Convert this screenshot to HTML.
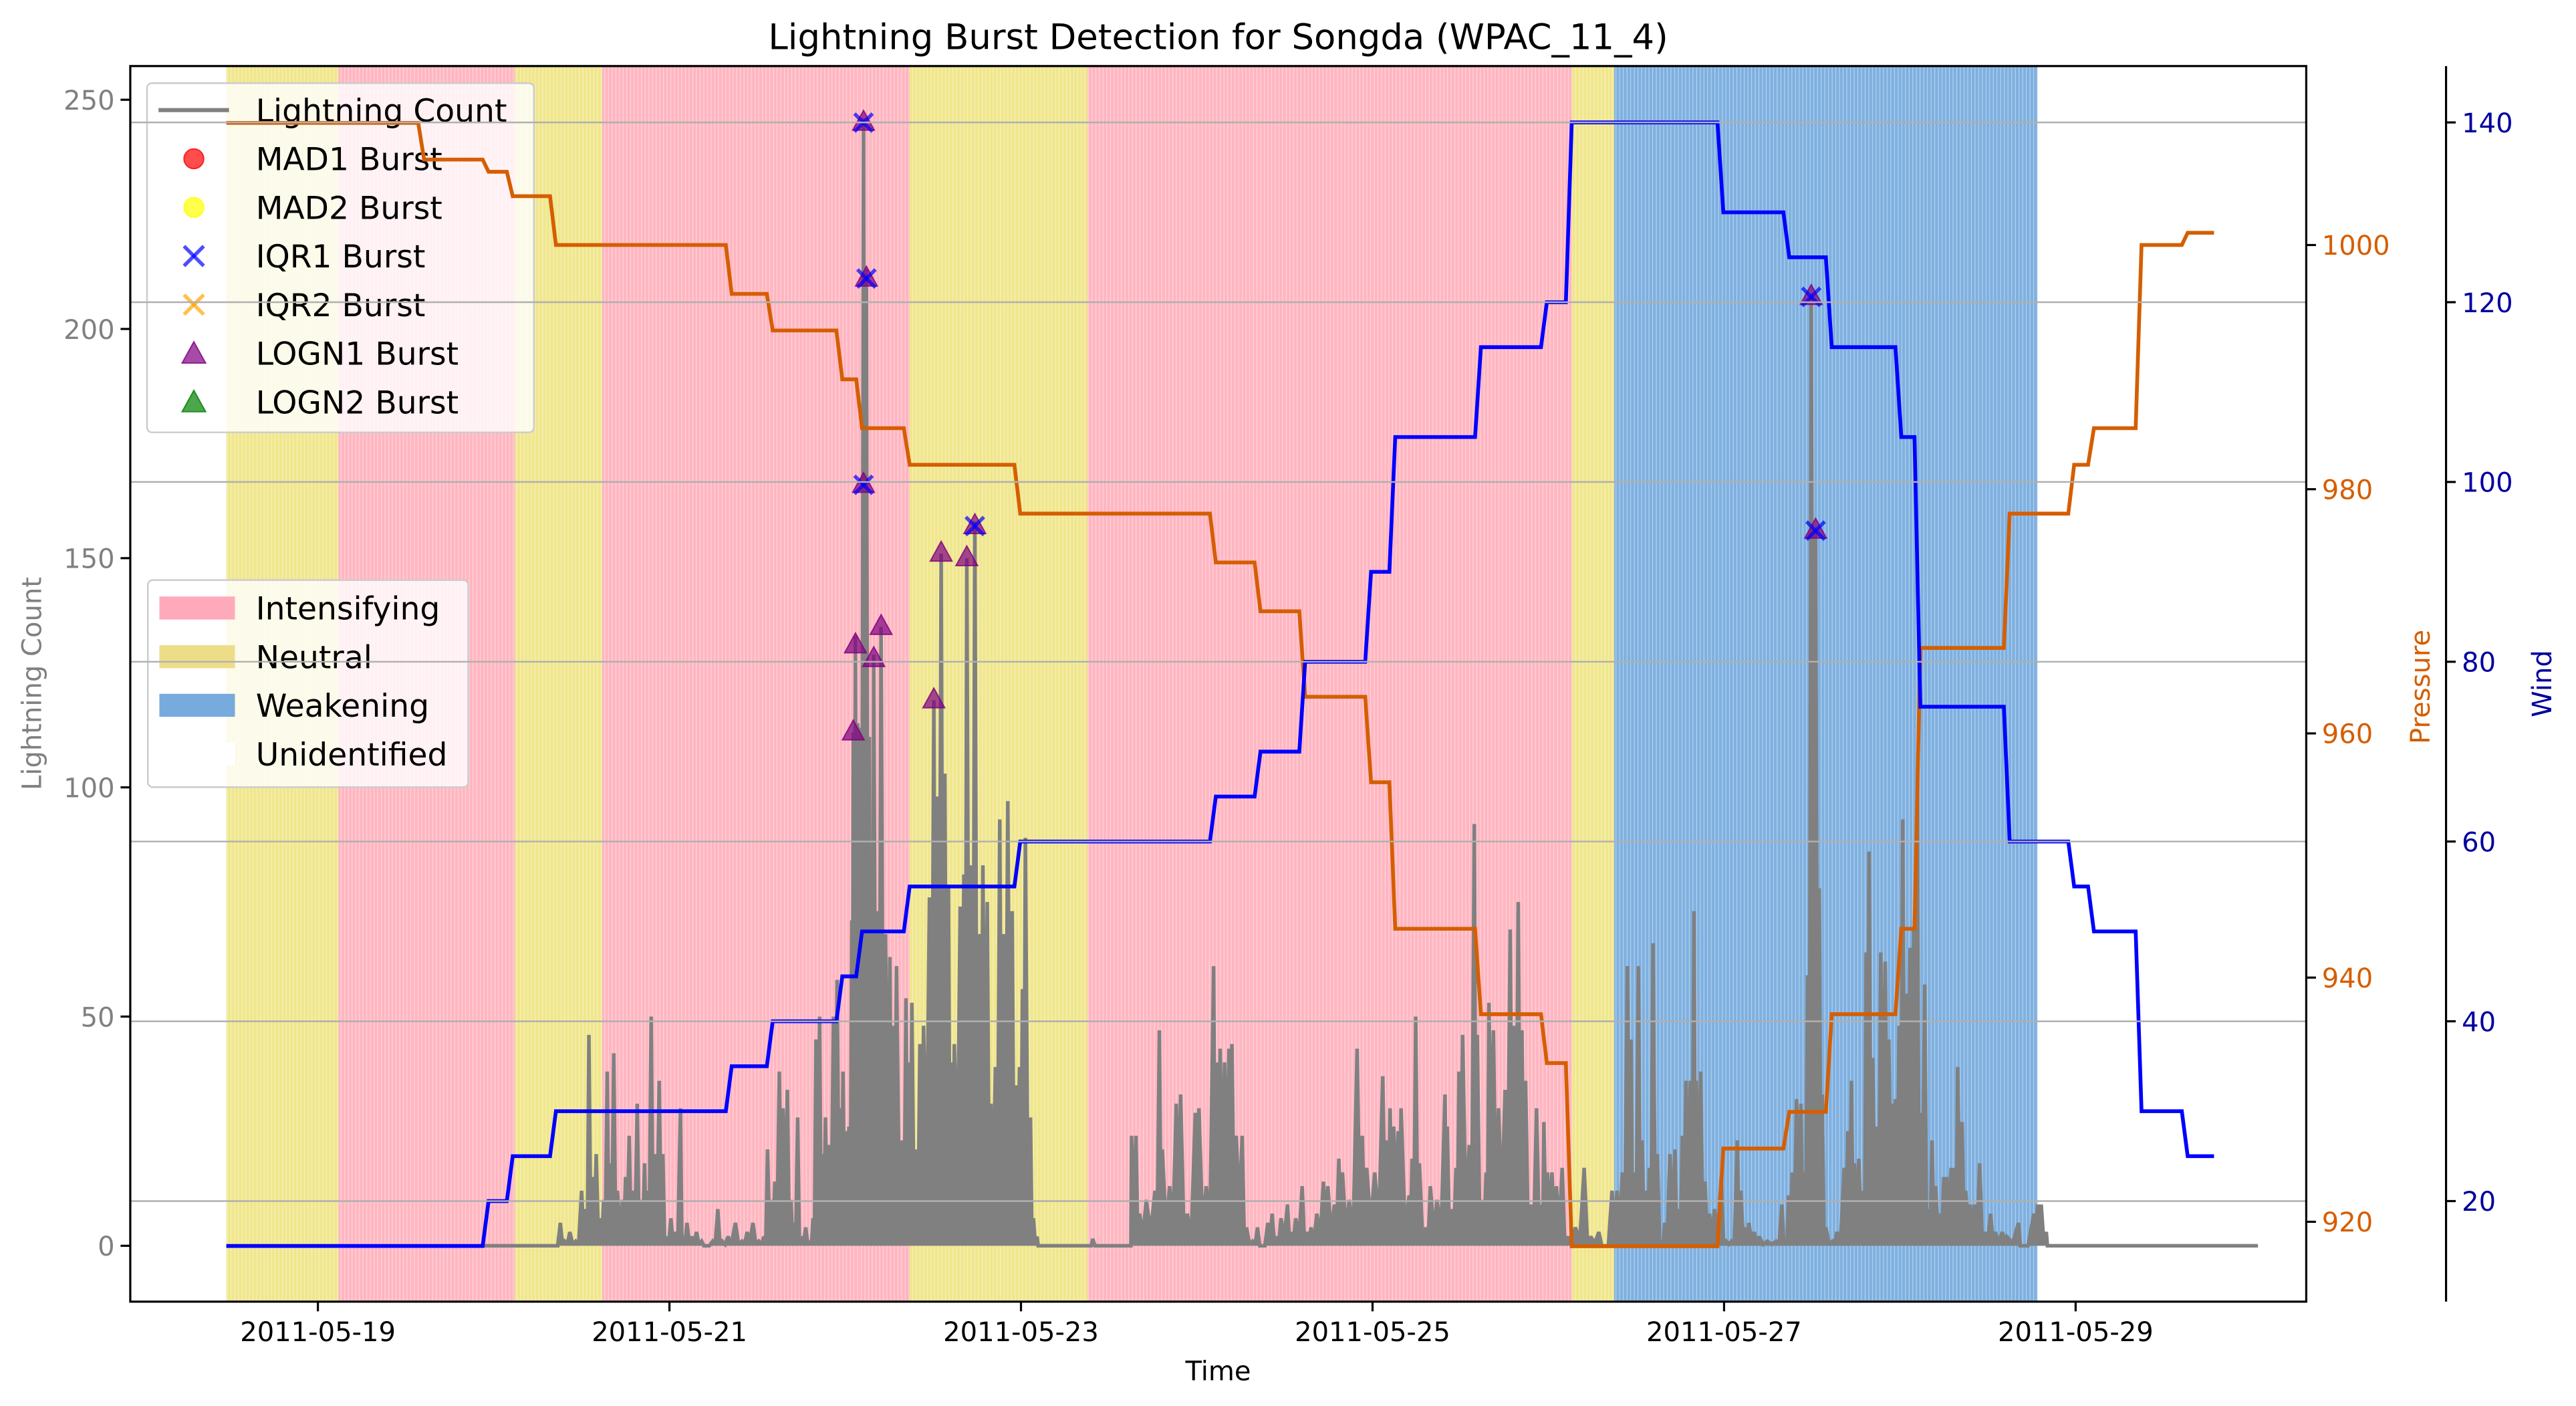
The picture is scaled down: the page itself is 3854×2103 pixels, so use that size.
<!DOCTYPE html>
<html><head><meta charset="utf-8"><title>Lightning Burst Detection for Songda</title>
<style>html,body{margin:0;padding:0;background:#fff}svg{display:block}text{font-family:"DejaVu Sans","Liberation Sans",sans-serif}</style>
</head><body>
<svg id="chart" xmlns="http://www.w3.org/2000/svg" width="3854" height="2103" viewBox="0 0 1568 855.6">
<defs>
<pattern id="stripe" patternUnits="userSpaceOnUse" width="2.23" height="10"><rect x="0" y="0" width="0.45" height="10" fill="#fff" fill-opacity="0.45"/></pattern>
<clipPath id="plotclip"><rect x="79.3" y="40.2" width="1324.5" height="751.9"/></clipPath>
</defs>
<g id="spans" clip-path="url(#plotclip)"></g>
<g id="lightning" clip-path="url(#plotclip)"></g>
<g id="markers"></g>
<g id="legends"></g>
<g id="pressure" clip-path="url(#plotclip)"></g>
<g id="wind" clip-path="url(#plotclip)"></g>
<g id="grid"></g>
<g id="axes"></g>
</svg>
<script>
// ---- data ----
const dateTickLabels = ["2011-05-19","2011-05-21","2011-05-23","2011-05-25","2011-05-27","2011-05-29"];
const dateTickHours = [0,48,96,144,192,240];
const countTicks = [0,50,100,150,200,250];
const pressureTicks = [920,940,960,980,1000];
const windTicks = [20,40,60,80,100,120,140];

const spanStartHours = [-9.9,5.4,29.5,41.4,83.4,107.7,173.8,179.6];
const spanEndHours   = [5.4,29.5,41.4,83.4,107.7,173.8,179.6,237.4];
const spanLabels = ["Neutral","Intensifying","Neutral","Intensifying","Neutral","Intensifying","Neutral","Weakening"];

const lcHours = [-9.9,35,35.7,36.3,37,37.8,38.6,39.2,39.6,40.1,40.6,41.2,41.6,42.1,42.5,43.0,43.5,44.2,44.6,45.1,45.6,46.2,46.7,47.2,47.6,48.1,48.6,49.2,49.7,50.2,50.8,51.4,52.1,52.5,53,53.6,54.3,55,55.6,56.5,57.2,57.8,58.6,59.6,60.5,61.2,62,62.8,63.5,64.0,64.5,65.0,65.6,66.1,66.7,67.2,67.6,68.1,68.6,69.2,69.8,70.2,70.6,71.1,71.5,71.9,72.4,73.0,73.5,74.0,74.3,74.7,75.1,75.5,75.7,76.0,76.3,76.6,77.1,77.5,77.9,78.2,78.5,79.0,79.5,80.1,80.7,81.1,81.6,82.4,82.9,83.3,83.7,84.3,84.8,85.3,86.1,86.7,87.1,87.7,88.2,88.7,89.1,89.5,90.3,90.8,91.2,91.8,92.3,92.9,93.4,94.0,94.5,95.1,95.7,96.2,96.8,97.4,97.9,98.4,98.8,99.2,99.9,100.3,100.8,101.1,108,108.4,109,113.5,113.7,114.3,114.8,115.7,116.9,117.5,117.9,118.9,119.8,120.4,121.3,122.4,122.9,123.9,124.9,125.3,125.8,126.4,127.0,127.4,128.0,128.8,129.4,130.2,130.9,131.5,132.3,132.9,133.5,134.1,135.0,135.5,136.1,137.0,137.6,138.2,139.0,139.9,140.5,141.4,142.0,142.5,143.4,144.5,145.2,145.8,146.9,148.0,148.6,149.0,149.5,150.1,150.5,151.6,152.0,152.5,153.0,153.9,154.5,155.4,156.5,156.8,157.4,158.0,158.4,158.9,159.8,160.5,160.9,161.6,162.1,162.5,163.1,163.8,164.7,165.4,165.9,166.5,167.0,167.5,168.2,169.0,169.7,170.0,170.5,171.1,171.7,172.5,173.2,174.3,175.5,176.4,177.5,178.3,179.3,180.0,180.7,181.4,181.9,182.3,182.9,183.4,184.0,184.4,184.9,185.5,186.1,186.5,187.2,187.9,188.4,188.9,189.4,190.0,190.5,190.8,191.4,192.0,192.6,193.3,194.2,194.9,195.6,196.4,196.9,197.5,198.0,198.7,199.4,200.5,201.7,202.5,203.0,203.4,203.9,204.5,205.1,205.5,206.0,206.5,207.1,207.6,208.0,208.5,209.4,210.0,211.0,211.5,212.0,212.4,213.0,213.6,214.0,214.4,214.9,215.5,216.0,216.6,217.1,217.6,218.0,218.5,219.0,219.5,220.0,220.5,221.0,221.4,222.0,222.5,223.0,223.5,224.1,224.6,225.0,225.6,226.1,226.5,227.1,227.6,228.2,228.8,229.5,230.2,231.0,231.6,232.6,233.2,234.8,235.3,236.9,237.4,237.9,238.6,238.9,267.5];
const lcCounts = [0,0,5,1,3,1,12,8,46,15,20,6,10,38,18,42,12,10,15,24,12,31,10,18,12,50,20,36,20,2,6,3,30,2,5,2,3,1,0,1,8,1,2,5,1,3,5,1,2,21,10,14,38,30,34,10,5,28,2,4,1,6,45,50,20,28,22,50,58,30,38,25,26,71,112,133,114,113,246,213,111,70,129,73,135,68,63,48,61,23,54,40,53,21,44,48,76,119,98,151,103,78,40,44,74,81,150,83,158,68,83,75,31,39,93,68,97,73,35,39,56,89,28,6,2,0,0,1.5,0,0,24,24,7,10,12,47,21,13,31,33,7,29,30,13,61,40,43,40,43,44,24,24,4,1,4,0,5,7,2,6,9,3,6,13,3,4,7,14,13,9,19,16,10,43,24,17,16,37,23,30,26,25,30,11,19,50,18,4,13,10,33,26,8,17,38,46,22,92,46,10,16,53,47,30,34,69,48,75,47,36,9,30,9,27,16,16,13,17,2,4,17,2,3,0,12,12,16,61,45,16,61,23,12,17,66,20,1,5,20,21,8,24,36,36,73,36,38,14,7,8,15,1,1,23,12,4,5,3,2,1,1,9,1,11,16,32,31,16,59,207,156,78,33,4,1,3,17,25,36,18,19,12,64,86,41,26,64,62,45,31,32,48,93,55,65,69,102,29,57,8,23,13,7,15,15,17,17,39,27,12,9,9,18,3,7,3,3,2,5,0,7,9,9,3,0,0];

const logn1Hours  = [75.7,76.0,77.1,77.1,77.5,78.5,79.5,86.7,87.7,91.2,92.3,206.5,207.1];
const logn1Counts = [112,131,245,166,211,128,135,119,151,150,157,207,156];
const iqr1Hours   = [77.1,77.1,77.5,92.3,206.5,207.1];
const iqr1Counts  = [245,166,211,157,207,156];

const stepHours    = [-9.9,17.1,25.9,29.2,35.1,59.1,64.7,74.2,76.9,83.4,98.5,125.2,131.3,137.4,146.4,149.7,161.4,170.4,173.8,194.5,203.5,209.3,218.8,221.4,233.6,242.4,245.1,251.6,257.9];
const pressureVals = [1010,1007,1006,1004,1000,996,993,989,985,982,978,974,970,963,956,944,937,933,918,926,929,937,944,967,978,982,985,1000,1001];
const windVals     = [15,15,20,25,30,35,40,45,50,55,60,65,70,80,90,105,115,120,140,130,125,115,105,75,60,55,50,30,25];
const seriesEndHour = 261.5;

// ---- scales ----
const L=79.3,R=1403.8,T=40.2,B=792.1;
const X = h => 193.5 + (h - 2.6) * 4.458;
const YC = c => 758.1 - c * 2.7896;
const YP = p => 743.5 - (p - 920) * 7.43;
const YW = w => 730.9 - (w - 20) * 5.47;
const NS="http://www.w3.org/2000/svg";
function mk(tag, attrs, parent){const e=document.createElementNS(NS,tag);for(const k in attrs)e.setAttribute(k,attrs[k]);parent.appendChild(e);return e;}
const $=id=>document.getElementById(id);

// spans
const spanColor={"Intensifying":"#ffb6c1","Neutral":"#f0e68c","Weakening":"#7eb0e0"};
spanStartHours.forEach((s,i)=>{
  const r=mk('rect',{x:X(s),y:T,width:X(spanEndHours[i])-X(s),height:B-T,fill:spanColor[spanLabels[i]]},$('spans'));
  
  
  const s2=mk('rect',{x:X(s),y:T,width:X(spanEndHours[i])-X(s),height:B-T,fill:'url(#stripe)'},$('spans'));
  
  
});

// lightning (spiky rendering: dip between consecutive readings)
const pts=[];
lcHours.forEach((h,i)=>{
  pts.push(X(h).toFixed(2)+','+YC(lcCounts[i]).toFixed(2));
  if(i<lcHours.length-1){
    const h2=lcHours[i+1];
    if(h2-h<3){const m=Math.min(lcCounts[i],lcCounts[i+1])*0.3;
      pts.push(X((h+h2)/2).toFixed(2)+','+YC(m).toFixed(2));}
  }
});
const area=mk('polygon',{points:X(lcHours[0])+','+YC(0)+' '+pts.join(' ')+' '+X(lcHours[lcHours.length-1])+','+YC(0),fill:'#808080',stroke:'none'},$('lightning'));


const lcl=mk('polyline',{points:pts.join(' '),fill:'none',stroke:'#808080','stroke-width':2.2,'stroke-linejoin':'miter','stroke-miterlimit':2},$('lightning'));



// markers
function tri(cx,cy,s,fill,parent){return mk('polygon',{points:`${cx},${cy-s*0.62} ${cx-s*0.55},${cy+s*0.38} ${cx+s*0.55},${cy+s*0.38}`,fill:fill,'fill-opacity':0.7,stroke:fill,'stroke-opacity':0.8,'stroke-width':0.8},parent);}
function cross(cx,cy,s,col,parent){const g=mk('g',{stroke:col,'stroke-opacity':0.7,'stroke-width':2.2},parent);mk('line',{x1:cx-s/2,y1:cy-s/2,x2:cx+s/2,y2:cy+s/2},g);mk('line',{x1:cx-s/2,y1:cy+s/2,x2:cx+s/2,y2:cy-s/2},g);return g;}
logn1Hours.forEach((h,i)=>{const m=tri(X(h),YC(logn1Counts[i]),12,'#800080',$('markers'));
  
  });
iqr1Hours.forEach((h,i)=>{const m=cross(X(h),YC(iqr1Counts[i]),11,'#0000ff',$('markers'));
  
  });

// legends
const lg=$('legends');
const b1=mk('rect',{x:89.5,y:50.6,width:235.5,height:212.5,rx:3,fill:'#fff','fill-opacity':0.8,stroke:'#cccccc','stroke-width':1},lg);


const rows=["Lightning Count","MAD1 Burst","MAD2 Burst","IQR1 Burst","IQR2 Burst","LOGN1 Burst","LOGN2 Burst"];
rows.forEach((t,i)=>{
  const cy=67+i*29.6;
  if(i===0){const l=mk('line',{x1:96.5,y1:cy,x2:139.4,y2:cy,stroke:'#808080','stroke-width':2.5},lg);
    
    }
  else if(i<3){const c=mk('circle',{cx:118,cy:cy,r:6,fill:i===1?'#ff0000':'#ffff00','fill-opacity':0.7,stroke:i===1?'#ff0000':'#ffff00','stroke-opacity':0.8,'stroke-width':0.8},lg);
    
    }
  else if(i<5){const c=cross(118,cy,12,i===3?'#0000ff':'#ffa500',lg);
    
    }
  else {const c=tri(118,cy+1,13,i===5?'#800080':'#008000',lg);
    
    }
  const tx=mk('text',{x:155.7,y:cy+7,'font-size':19.2,fill:'#000'},lg);tx.textContent=t;
  
  
});
const b2=mk('rect',{x:90,y:353,width:195,height:126,rx:3,fill:'#fff','fill-opacity':0.8,stroke:'#cccccc','stroke-width':1},lg);


const phaseRows=["Intensifying","Neutral","Weakening","Unidentified"];
const phaseCol=["#ffaabb","#eedd88","#77aadd","#ffffff"];
phaseRows.forEach((t,i)=>{
  const cy=370+i*29.6;
  const p=mk('rect',{x:97,y:cy-7,width:46,height:14,fill:phaseCol[i]},lg);
  
  
  const tx=mk('text',{x:155.7,y:cy+7,'font-size':19.2,fill:'#000'},lg);tx.textContent=t;
  
  
});

// pressure & wind step lines
function stepPts(vals,Yf){const p=[];stepHours.forEach((h,i)=>{if(i>0)p.push(X(h-0.8)+','+Yf(vals[i-1]));p.push(X(h)+','+Yf(vals[i]));});p.push(X(seriesEndHour)+','+Yf(vals[vals.length-1]));return p.join(' ');}
const pl=mk('polyline',{points:stepPts(pressureVals,YP),fill:'none',stroke:'#d55e00','stroke-width':2.3},$('pressure'));


const wl=mk('polyline',{points:stepPts(windVals,YW),fill:'none',stroke:'#0000ff','stroke-width':2.3},$('wind'));



// grid
windTicks.forEach(w=>{const g=mk('line',{x1:L,x2:R,y1:YW(w),y2:YW(w),stroke:'#b0b0b0','stroke-width':1},$('grid'));
  
  });

// axes
const ax=$('axes');
const fr=mk('rect',{x:L,y:T,width:R-L,height:B-T,fill:'none',stroke:'#000','stroke-width':1.3},ax);


const wa=mk('line',{x1:1488.9,x2:1488.9,y1:T,y2:B,stroke:'#000','stroke-width':1.3},ax);


const FS=16.3;
countTicks.forEach(c=>{const y=YC(c);mk('line',{x1:L-5.9,x2:L,y1:y,y2:y,stroke:'#000','stroke-width':1.3},ax);
  const t=mk('text',{x:L-9.5,y:y+6,'font-size':FS,fill:'#808080','text-anchor':'end'},ax);t.textContent=c;
  
  });
pressureTicks.forEach(p=>{const y=YP(p);mk('line',{x1:R,x2:R+5.9,y1:y,y2:y,stroke:'#000','stroke-width':1.3},ax);
  const t=mk('text',{x:R+9.5,y:y+6,'font-size':FS,fill:'#d55e00'},ax);t.textContent=p;
  
  });
windTicks.forEach(w=>{const y=YW(w);mk('line',{x1:1488.9,x2:1494.8,y1:y,y2:y,stroke:'#000','stroke-width':1.3},ax);
  const t=mk('text',{x:1498.5,y:y+6,'font-size':FS,fill:'#00009e'},ax);t.textContent=w;
  
  });
dateTickHours.forEach((h,i)=>{const x=X(h+2.6);mk('line',{x1:x,x2:x,y1:B,y2:B+5.9,stroke:'#000','stroke-width':1.3},ax);
  const t=mk('text',{x:x,y:B+24,'font-size':FS,fill:'#000','text-anchor':'middle'},ax);t.textContent=dateTickLabels[i];
  
  });
function label(txt,x,y,rot,col,size,name){const t=mk('text',{x:x,y:y,'font-size':size,fill:col,'text-anchor':'middle',transform:rot?`rotate(-90 ${x} ${y})`:''},ax);t.textContent=txt;
  
  }
label('Lightning Count',25,416,true,'#808080',FS,'y-axis-title');
label('Time',741.5,840,false,'#000',FS,'x-axis-title');
label('Pressure',1479,418,true,'#d55e00',FS,'pressure-axis-title');
label('Wind',1553,416,true,'#00009e',FS,'wind-axis-title');
label('Lightning Burst Detection for Songda (WPAC_11_4)',741.5,30,false,'#000',21.5,'chart-title');
</script>
</body></html>
